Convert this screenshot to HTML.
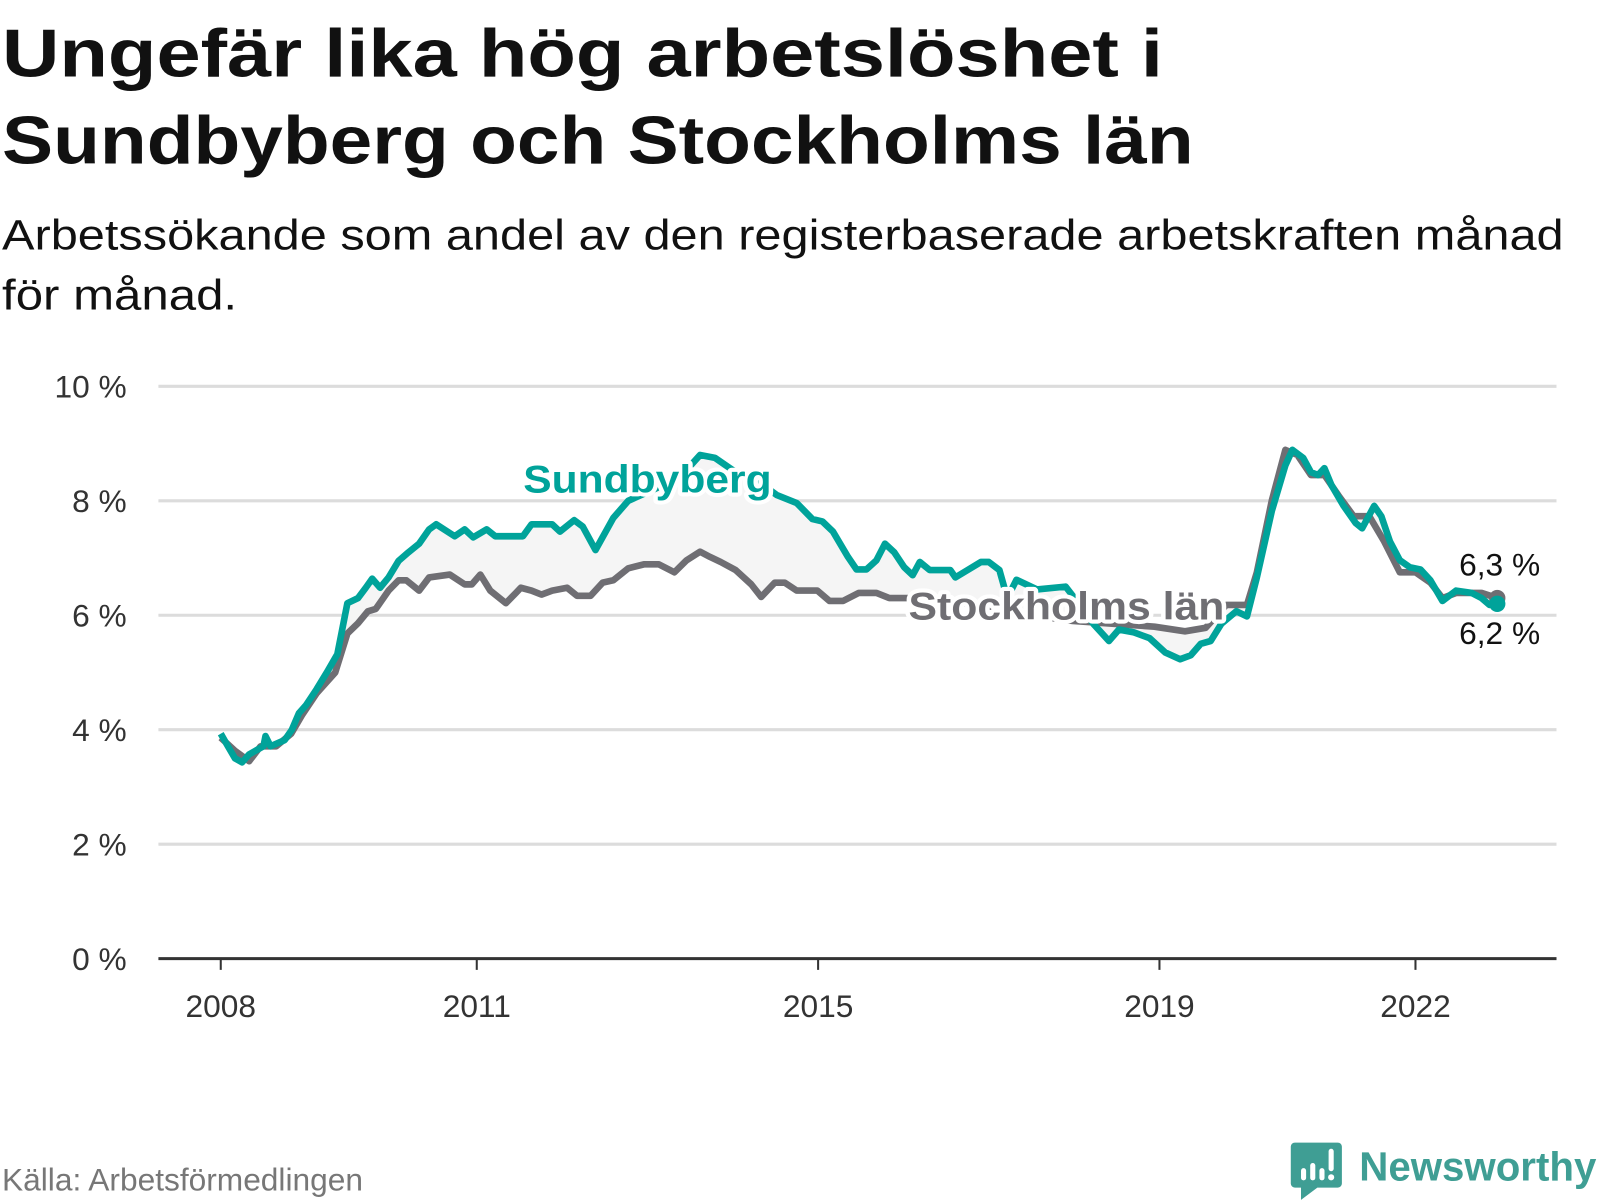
<!DOCTYPE html>
<html><head><meta charset="utf-8">
<style>
html,body{margin:0;padding:0;background:#fff;}
svg{display:block;font-family:"Liberation Sans","DejaVu Sans",sans-serif;}
</style></head>
<body>
<svg id="chart" width="1600" height="1200" viewBox="0 0 1600 1200">
<g transform="scale(1.022)">
<text x="2" y="75" font-size="66" font-weight="bold" fill="#111" textLength="1136" lengthAdjust="spacingAndGlyphs">Ungefär lika hög arbetslöshet i</text>
<text x="2" y="160" font-size="66" font-weight="bold" fill="#111" textLength="1166" lengthAdjust="spacingAndGlyphs">Sundbyberg och Stockholms län</text>
<text x="2" y="244" font-size="42" fill="#111" textLength="1528" lengthAdjust="spacingAndGlyphs">Arbetssökande som andel av den registerbaserade arbetskraften månad</text>
<text x="2" y="303" font-size="42" fill="#111" textLength="230" lengthAdjust="spacingAndGlyphs">för månad.</text>
<g id="grid"></g>
<g id="area"></g>
<g id="lines"></g>
<g id="labels"></g>
<text x="2" y="1165" font-size="31" fill="#777">Källa: Arbetsförmedlingen</text>
<g>
<path d="M1267 1118 h42 a4 4 0 0 1 4 4 v36 a4 4 0 0 1 -4 4 h-20 l-16 12 v-12 h-6 a4 4 0 0 1 -4 -4 v-36 a4 4 0 0 1 4 -4z" fill="#3f9e94"/>
<rect x="1273" y="1143" width="5" height="12" rx="2.5" fill="#fff"/>
<rect x="1282" y="1138" width="5" height="17" rx="2.5" fill="#fff"/>
<rect x="1291" y="1143" width="5" height="12" rx="2.5" fill="#fff"/>
<rect x="1300" y="1124" width="5" height="22" rx="2.5" fill="#fff"/>
<circle cx="1302.5" cy="1152" r="3" fill="#fff"/>
<text x="1330" y="1155" font-size="40" font-weight="bold" fill="#3f9e94" textLength="232" lengthAdjust="spacingAndGlyphs">Newsworthy</text>
</g>
</g>
</svg>
<script>
const yTicks = [0, 2, 4, 6, 8, 10];
const yTickLabels = ["0 %", "2 %", "4 %", "6 %", "8 %", "10 %"];
const xTickMonths = [0, 36, 84, 132, 168];
const xTickLabels = ["2008", "2011", "2015", "2019", "2022"];
const sundMonths = [0,1,2,3,4,6,6.3,7,9,10,11,12,13.5,15,16.4,17.8,19.3,20.4,21.3,22.4,23.6,25,26.4,27.9,29.3,30.3,32.9,34.3,35.5,37.4,38.6,42.5,43.7,46.6,47.7,49.7,50.9,52.7,55.2,57.3,60.9,64.5,67.4,69.5,72.4,76,78.2,81,83.2,84.6,86.1,88.2,89.4,90.8,92.2,93.4,94.7,96.1,97.3,98.3,99.7,102.6,103.3,104.5,106.9,108,109.5,110.6,111.9,114.8,118.8,121.3,122.7,124.9,126.3,128.4,130.6,132.8,134.9,136.4,137.8,139.2,140.7,142.8,144.3,145.7,147.8,149.7,150.7,152.2,153.3,154.3,155.2,156.2,157.9,159.6,160.5,162.2,163.2,164.4,165.8,167.2,168.7,170.1,171.8,173.7,175.9,177.3,178.4,179.5];
const sundValues = [3.93,3.71,3.5,3.43,3.57,3.71,3.89,3.71,3.82,4.0,4.29,4.43,4.71,5.02,5.32,6.21,6.3,6.48,6.64,6.48,6.66,6.95,7.1,7.25,7.5,7.59,7.38,7.5,7.36,7.5,7.38,7.38,7.59,7.59,7.46,7.66,7.55,7.14,7.7,8.0,8.2,8.4,8.8,8.75,8.5,8.3,8.1,7.96,7.68,7.64,7.46,7.02,6.8,6.8,6.96,7.25,7.1,6.84,6.7,6.93,6.79,6.79,6.66,6.75,6.93,6.93,6.79,6.3,6.62,6.45,6.5,6.1,5.85,5.55,5.75,5.7,5.6,5.35,5.23,5.3,5.5,5.55,5.85,6.07,5.98,6.66,7.82,8.62,8.89,8.75,8.5,8.45,8.57,8.27,7.91,7.61,7.52,7.91,7.73,7.29,6.96,6.84,6.8,6.61,6.25,6.43,6.39,6.3,6.18,6.2];
const stockMonths = [0,2,4,5.6,7.8,9.9,11.4,13.5,16.1,17.8,19.3,20.7,21.8,23.6,25,26.1,27.9,29.3,32.2,34.3,35.3,36.5,37.9,40.1,41.5,42.2,43.7,45.1,46.6,48.7,50.1,52,53.7,55.2,57.3,59.5,61.6,63.8,65.5,67.4,68.8,70.3,72.4,74.6,76,77.9,79.3,81,83.9,85.6,87.5,89.7,92.2,94,96.8,102.6,108.3,114,119.8,125.6,131.3,135.6,138.5,141.4,144.3,145.7,147.8,149.7,151.4,153.3,155.2,157.2,159.3,161.5,163.6,165.8,168,170.1,171.8,173.7,177.3,179.5];
const stockValues = [3.86,3.63,3.45,3.71,3.71,3.93,4.25,4.64,5.0,5.68,5.86,6.07,6.11,6.43,6.61,6.61,6.43,6.66,6.71,6.54,6.54,6.71,6.43,6.21,6.39,6.48,6.43,6.36,6.43,6.48,6.34,6.34,6.57,6.61,6.82,6.89,6.89,6.75,6.96,7.11,7.02,6.93,6.79,6.54,6.32,6.57,6.57,6.43,6.43,6.25,6.25,6.39,6.39,6.3,6.3,6.25,6.15,6.0,5.9,5.85,5.8,5.72,5.78,6.18,6.18,6.75,8.0,8.89,8.8,8.45,8.45,8.09,7.73,7.73,7.29,6.75,6.75,6.57,6.3,6.39,6.39,6.3];

const NS = "http://www.w3.org/2000/svg";
const X0 = 216, PX_PER_MONTH = 83.5/12;
function xScale(m){ return X0 + m*PX_PER_MONTH; }
function yScale(v){ return 938 - v*56; }
function mk(tag, attrs, parent){ const e=document.createElementNS(NS,tag); for(const k in attrs) e.setAttribute(k,attrs[k]); parent.appendChild(e); return e; }

const grid=document.getElementById('grid');
yTicks.forEach((t,i)=>{
  if(t>0){
    const l=mk('line',{x1:155,x2:1523,y1:yScale(t),y2:yScale(t),stroke:'#dcdcdc','stroke-width':3},grid);
    
    
  }
  const tx=mk('text',{x:124,y:yScale(t)+11,'text-anchor':'end','font-size':31,fill:'#333'},grid);
  tx.textContent=yTickLabels[i];
  
  
});
const ax=mk('line',{x1:155,x2:1523,y1:938,y2:938,stroke:'#333','stroke-width':3},grid);


xTickMonths.forEach((m,i)=>{
  const t=mk('line',{x1:xScale(m),x2:xScale(m),y1:938,y2:949,stroke:'#333','stroke-width':2},grid);
  
  
  const tx=mk('text',{x:xScale(m),y:995,'text-anchor':'middle','font-size':31,fill:'#333'},grid);
  tx.textContent=xTickLabels[i];
  
  
});

function pts(ms,vs){ return ms.map((m,i)=>xScale(m).toFixed(1)+','+yScale(vs[i]).toFixed(1)); }
const sp=pts(sundMonths,sundValues), kp=pts(stockMonths,stockValues);
const area=mk('polygon',{points:sp.concat(kp.slice().reverse()).join(' '),fill:'#f5f5f5'},document.getElementById('area'));


const lines=document.getElementById('lines');
const kl=mk('polyline',{points:kp.join(' '),fill:'none',stroke:'#6f6e73','stroke-width':6.5,'stroke-linejoin':'round'},lines);


const sl=mk('polyline',{points:sp.join(' '),fill:'none',stroke:'#00a39a','stroke-width':6.5,'stroke-linejoin':'round'},lines);


const kd=mk('circle',{cx:xScale(stockMonths[stockMonths.length-1]),cy:yScale(stockValues[stockValues.length-1]),r:8,fill:'#6f6e73'},lines);


const sd=mk('circle',{cx:xScale(sundMonths[sundMonths.length-1]),cy:yScale(sundValues[sundValues.length-1]),r:8,fill:'#00a39a'},lines);



const lab=document.getElementById('labels');
function halo(x,y,txt,fill,size,name,anchor,weight,len){
  const a={x:x,y:y,'font-size':size,fill:fill,stroke:'#fff','stroke-width':8,'paint-order':'stroke','stroke-linejoin':'round','text-anchor':anchor,'font-weight':weight};
  if(len){a.textLength=len;a.lengthAdjust='spacingAndGlyphs';}
  const t=mk('text',a,lab);
  t.textContent=txt;
  
  
}
halo(512,482,'Sundbyberg','#00a39a',38,'sundbyberg-label','start','bold',243);
halo(889,606,'Stockholms län','#6f6e73',38,'stockholms-lan-label','start','bold',309);
halo(1507,563,(stockValues[stockValues.length-1]).toFixed(1).replace('.',',')+' %','#111',31,'stockholms-lan-end-value','end','normal');
halo(1507,630,(sundValues[sundValues.length-1]).toFixed(1).replace('.',',')+' %','#111',31,'sundbyberg-end-value','end','normal');
</script>
</body></html>
